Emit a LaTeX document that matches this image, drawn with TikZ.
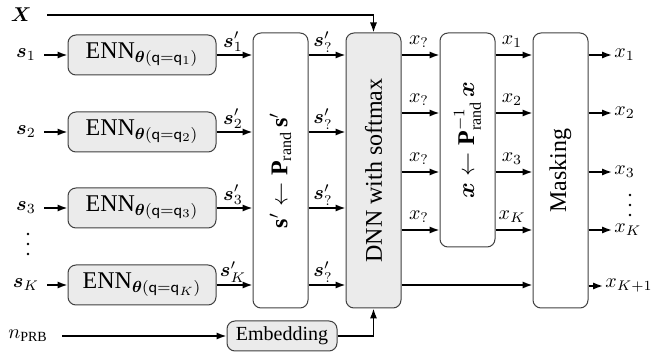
\documentclass[tikz,border=0pt]{standalone}
\usepackage{amsmath,amssymb}
\usepackage{fontspec}
\setmainfont{Liberation Serif}
\usetikzlibrary{arrows.meta}
\begin{document}
\begin{tikzpicture}[x=0.5pt,y=-0.5pt,
  box/.style={draw=black!75, line width=0.5pt, rounded corners=4pt, inner sep=0pt, font=\large},
  gbox/.style={box, fill=black!8},
  conn/.style={line width=0.8pt, -{Latex[length=5pt,width=3.6pt]}},
  lab/.style={font=\normalsize, inner sep=1pt},
  dotc/.style={fill=black}]
\useasboundingbox (0,0) rectangle (655,352);

% boxes
\node[gbox, minimum width=74pt, minimum height=20pt] (enn1) at (142,55) {$\mathrm{ENN}_{\boldsymbol{\theta}(\mathsf{q}=\mathsf{q}_1)}$};
\node[gbox, minimum width=74pt, minimum height=20pt] (enn2) at (142,132) {$\mathrm{ENN}_{\boldsymbol{\theta}(\mathsf{q}=\mathsf{q}_2)}$};
\node[gbox, minimum width=74pt, minimum height=20pt] (enn3) at (142,208) {$\mathrm{ENN}_{\boldsymbol{\theta}(\mathsf{q}=\mathsf{q}_3)}$};
\node[gbox, minimum width=74pt, minimum height=20pt] (ennK) at (142,285) {$\mathrm{ENN}_{\boldsymbol{\theta}(\mathsf{q}=\mathsf{q}_K)}$};

\node[box, minimum width=27.5pt, minimum height=137.5pt] (perm) at (280.5,170.5) {\rotatebox{90}{$\mathbf{s}'\leftarrow\mathbf{P}_{\text{rand}}\,\mathbf{s}'$}};
\node[gbox, minimum width=27.5pt, minimum height=137.5pt] (dnn) at (373.5,170.5) {\rotatebox{90}{DNN with softmax}};
\node[box, minimum width=27.5pt, minimum height=107pt] (inv) at (467.5,140) {\rotatebox{90}{$\boldsymbol{x}\leftarrow\mathbf{P}^{-1}_{\text{rand}}\,\boldsymbol{x}$}};
\node[box, minimum width=27.5pt, minimum height=137.5pt] (mask) at (560.5,170.5) {\rotatebox{90}{Masking}};
\node[gbox, font=\normalsize, minimum width=55pt, minimum height=15pt] (emb) at (282,336) {Embedding};

% input labels
\node[lab] (X) at (21,15) {$\boldsymbol{X}$};
\coordinate (Xs) at (47,15);
\node[lab] (s1) at (26,55) {$\boldsymbol{s}_1$};
\node[lab] (s2) at (26,132) {$\boldsymbol{s}_2$};
\node[lab] (s3) at (26,208) {$\boldsymbol{s}_3$};
\node[lab] (sK) at (26,285) {$\boldsymbol{s}_K$};
\foreach \y in {234,244,254} \fill[dotc] (28,\y) circle[radius=0.65pt];
\node[lab] (n) at (28,336) {$n_{\text{PRB}}$};
\coordinate (ns) at (62,336);

% input arrows
\foreach \i in {1,2,3,K}{
  \draw[conn] ([xshift=3pt]s\i.east) -- (enn\i.west);
  \draw[conn] (enn\i.east) -- (enn\i.east -| perm.west);
}
\draw[conn] (Xs) -| (dnn.north);
\draw[conn] (ns) -- (emb.west);
\draw[conn] (emb.east) -| (dnn.south);

% s' labels
\node[lab] (l1) at (233,42) {$\boldsymbol{s}'_1$};
\node[lab] (l2) at (233,119) {$\boldsymbol{s}'_2$};
\node[lab] (l3) at (233,195) {$\boldsymbol{s}'_3$};
\node[lab] (lK) at (233,272) {$\boldsymbol{s}'_K$};

% perm -> dnn
\foreach \y in {55,132,208,285}{
  \coordinate (p\y) at (308,\y);
  \draw[conn] (p\y -| perm.east) -- (p\y -| dnn.west);
  \node[lab] at (323,\y-13) {$\boldsymbol{s}'_{?}$};
}

% dnn -> inv, inv -> mask
\foreach \y/\k in {55/1,113/2,172/3,230/K}{
  \coordinate (q\y) at (420,\y);
  \draw[conn] (q\y -| dnn.east) -- (q\y -| inv.west);
  \node[lab] at (419,\y-13) {$x_{?}$};
  \draw[conn] (q\y -| inv.east) -- (q\y -| mask.west);
  \node[lab] at (512,\y-13) {$x_{\k}$};
}
\coordinate (qb) at (420,285);
\draw[conn] (qb -| dnn.east) -- (qb -| mask.west);

% outputs
\foreach \y/\k/\e in {55/1/612,113/2/612,172/3/612,230/K/612,286/{K+1}/603}{
  \coordinate (o\y) at (\e,\y);
  \draw[conn] (o\y -| mask.east) -- (o\y);
  \node[lab, anchor=west] at (o\y) {$x_{\k}$};
}
\foreach \y in {195,205,215} \fill[dotc] (630,\y) circle[radius=0.65pt];
\end{tikzpicture}
\end{document}
